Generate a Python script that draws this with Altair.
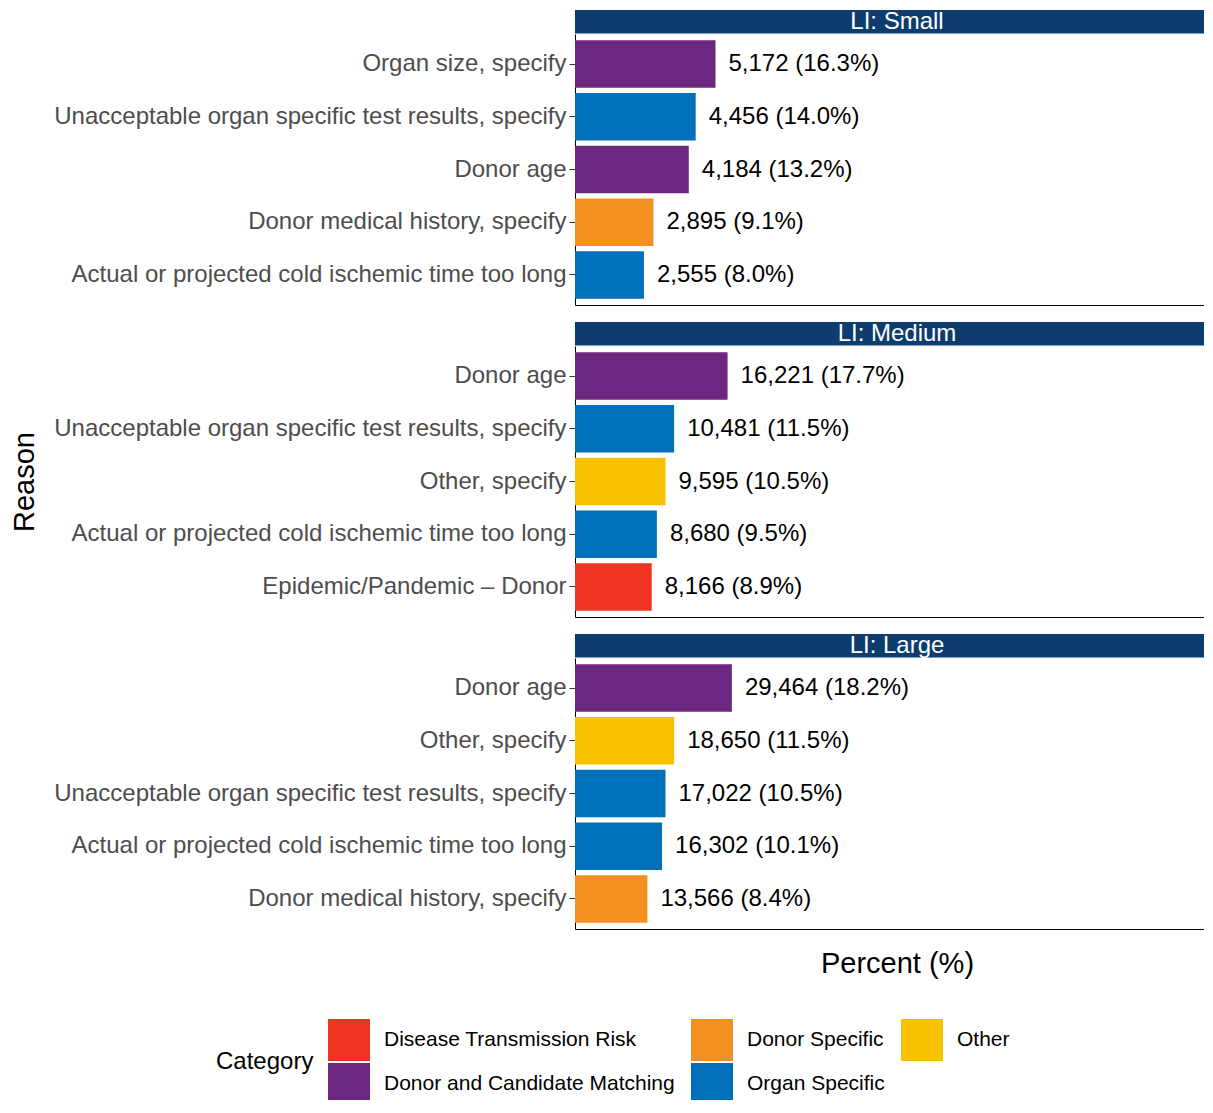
import altair as alt
import pandas as pd

sizes = ["LI: Small", "LI: Medium", "LI: Large"]

small_reasons = ["Organ size, specify",
                 "Unacceptable organ specific test results, specify",
                 "Donor age",
                 "Donor medical history, specify",
                 "Actual or projected cold ischemic time too long"]
small_counts = [5172, 4456, 4184, 2895, 2555]
small_pcts = [16.3, 14.0, 13.2, 9.1, 8.0]
small_cats = ["Donor and Candidate Matching", "Organ Specific", "Donor and Candidate Matching",
              "Donor Specific", "Organ Specific"]

medium_reasons = ["Donor age",
                  "Unacceptable organ specific test results, specify",
                  "Other, specify",
                  "Actual or projected cold ischemic time too long",
                  "Epidemic/Pandemic \u2013 Donor"]
medium_counts = [16221, 10481, 9595, 8680, 8166]
medium_pcts = [17.7, 11.5, 10.5, 9.5, 8.9]
medium_cats = ["Donor and Candidate Matching", "Organ Specific", "Other",
               "Organ Specific", "Disease Transmission Risk"]

large_reasons = ["Donor age",
                 "Other, specify",
                 "Unacceptable organ specific test results, specify",
                 "Actual or projected cold ischemic time too long",
                 "Donor medical history, specify"]
large_counts = [29464, 18650, 17022, 16302, 13566]
large_pcts = [18.2, 11.5, 10.5, 10.1, 8.4]
large_cats = ["Donor and Candidate Matching", "Other", "Organ Specific",
              "Organ Specific", "Donor Specific"]

# legend order (column-major in a 3-column legend)
cat_domain = ["Disease Transmission Risk", "Donor Specific", "Other",
              "Donor and Candidate Matching", "Organ Specific"]
cat_colors = ["#EE3524", "#F39020", "#F7C300", "#6C2780", "#0070BB"]

rows = []
for size, reasons, counts, pcts, cats in [
    (sizes[0], small_reasons, small_counts, small_pcts, small_cats),
    (sizes[1], medium_reasons, medium_counts, medium_pcts, medium_cats),
    (sizes[2], large_reasons, large_counts, large_pcts, large_cats),
]:
    for r, c, p, k in zip(reasons, counts, pcts, cats):
        rows.append({"size": size, "reason": r, "count": c, "pct": p, "category": k,
                     "label": f"{c:,} ({p:.1f}%)"})
df = pd.DataFrame(rows)

W = 629
H = 271
XMAX = W / 8.62
MID = 322  # centre of the (wider) original panel
STRIP = "#0D3C6E"
FONT = "Liberation Sans"


def panel(i, size):
    d = df[df["size"] == size]
    base = alt.Chart(d)
    ysort = alt.EncodingSortField(field="pct", order="descending")
    if i == 1:
        yax = alt.Axis(title="Reason", titleX=-551, titleY=H / 2, titleBaseline="middle",
                       titleAngle=270)
    else:
        yax = alt.Axis(title=None)
    if i == 2:
        xax = alt.Axis(title="Percent (%)", labels=False, ticks=False, grid=False,
                       titlePadding=20, titleX=MID)
    else:
        xax = alt.Axis(title=None, labels=False, ticks=False, grid=False)
    xenc = alt.X("pct:Q", scale=alt.Scale(domain=[0, XMAX], nice=False, zero=True), axis=xax)
    yenc = alt.Y("reason:N", sort=ysort, axis=yax,
                 scale=alt.Scale(paddingInner=0.1, paddingOuter=0.12))
    bars = base.mark_bar().encode(
        x=xenc, y=yenc,
        color=alt.Color("category:N", scale=alt.Scale(domain=cat_domain, range=cat_colors),
                        title="Category"),
    )
    labels = base.mark_text(align="left", baseline="middle", dx=13, fontSize=24,
                            color="black", font=FONT).encode(
        x=alt.X("pct:Q"), y=alt.Y("reason:N", sort=ysort), text="label:N")
    sdf = pd.DataFrame({"size": [size]})
    strip = alt.Chart(sdf).mark_rect(color=STRIP).encode(
        x=alt.value(0), x2=alt.value(W), y=alt.value(-24), y2=alt.value(-0.5))
    stext = alt.Chart(sdf).mark_text(color="white", fontSize=24, font=FONT,
                                     baseline="middle", align="center").encode(
        x=alt.value(MID), y=alt.value(-12), text="size:N")
    return alt.layer(strip, stext, bars, labels).properties(width=W, height=H)


chart = alt.vconcat(*[panel(i, s) for i, s in enumerate(sizes)], spacing=17).resolve_scale(
    y="independent"
).properties(
    autosize=alt.AutoSizeParams(type="none"),
    padding={"left": 567, "top": 26, "right": 0, "bottom": 1066},
).configure_view(stroke=None).configure_axis(
    domainColor="black", domainWidth=1, tickColor="#333333", tickSize=6, tickWidth=1,
    labelColor="#4D4D4D", labelFontSize=24, labelFont=FONT, labelPadding=3, labelLimit=800,
    titleFont=FONT, titleFontSize=29, titleFontWeight="normal", titleColor="black",
    grid=False,
).configure_legend(
    orient="none", legendX=-359, legendY=985, direction="horizontal", columns=3,
    titleOrient="left", titleFontSize=24, titleFont=FONT, titleFontWeight="normal",
    titleColor="black", titleAnchor="middle", titleBaseline="middle", titlePadding=14,
    labelFontSize=21, labelFont=FONT, labelColor="black", labelOffset=14, labelLimit=500,
    symbolType="square", symbolSize=1764, symbolStrokeWidth=0, symbolOpacity=1,
    rowPadding=2, columnPadding=16,
).configure_text(font=FONT)

chart.save("out.html", embed_options={"renderer": "svg", "actions": False})
